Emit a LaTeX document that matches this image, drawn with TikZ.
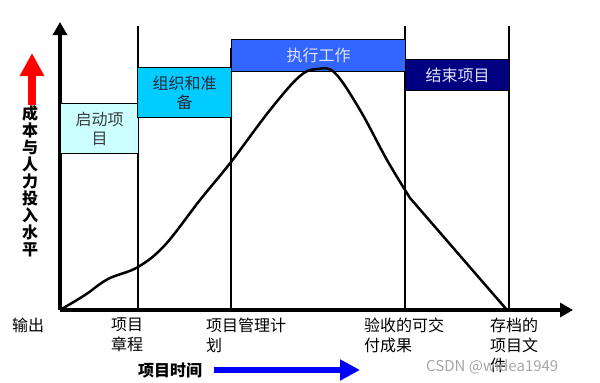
\documentclass[tikz,border=0pt]{standalone}
\usepackage{fontspec}
\setmainfont{Noto Sans CJK SC}
\usetikzlibrary{arrows.meta}

\begin{document}
\begin{tikzpicture}[x=1pt,y=-1pt,
    phase/.style={draw=black, line width=1.2pt, anchor=north west, inner sep=0pt,
        align=center, font=\fontsize{16}{19}\selectfont},
    outlbl/.style={anchor=north west, inner sep=0pt, align=left,
        font=\fontsize{16}{20}\selectfont}]
    \useasboundingbox (0,0) rectangle (600,383);

    % axes
    \coordinate (O) at (60,310);
    \coordinate (ytop) at (60,22);
    \coordinate (xend) at (573,310);
    \draw[line width=3.5pt, -{Triangle[width=14pt,length=13pt]}] (O) -- (ytop);
    \draw[line width=3.5pt, -{Triangle[width=14pt,length=13pt]}] (O) -- (xend);

    % phase borders
    \coordinate (b1) at (138,26);  \coordinate (f1) at (138,310);
    \coordinate (b2) at (231,48);  \coordinate (f2) at (231,310);
    \coordinate (b3) at (405,26);  \coordinate (f3) at (405,310);
    \coordinate (b4) at (509,26);  \coordinate (f4) at (509,310);
    \draw[line width=2.5pt] (b1) -- (f1);
    \draw[line width=2.5pt] (b2) -- (f2);
    \draw[line width=2.5pt] (b3) -- (f3);
    \draw[line width=2.5pt] (b4) -- (f4);

    % phases
    \node[phase, fill={rgb,255:red,204;green,255;blue,255}, minimum width=78pt, minimum height=50pt,
        text={rgb,255:red,60;green,60;blue,60}] (init) at (60,103) {启动项\\目};
    \node[phase, fill={rgb,255:red,0;green,204;blue,255}, minimum width=94pt, minimum height=50pt,
        text={rgb,255:red,40;green,40;blue,60}] (plan) at (137,67) {组织和准\\备};
    \node[phase, fill={rgb,255:red,51;green,102;blue,255}, minimum width=174pt, minimum height=32pt,
        text={rgb,255:red,225;green,225;blue,255}] (exec) at (231,39) {执行工作};
    \node[phase, fill={rgb,255:red,0;green,0;blue,128}, minimum width=104pt, minimum height=31pt,
        text={rgb,255:red,225;green,225;blue,255}] (close) at (405,59) {结束项目};

    % effort curve
    \draw[line width=2.5pt, line join=round] plot[smooth, tension=0.6] coordinates {
        (60,310) (85,295) (108,279) (138,267) (165,245) (200,200) (231,162)
        (270,110) (300,76) (318,69) (335,73) (360,110) (387,160) (410,198)}
        -- (507,310);

    % y label
    \draw[red, line width=8pt, -{Triangle[width=23pt,length=23pt]}] (32,105) -- (32,53);
    \node[font=\bfseries\fontsize{16}{17}\selectfont, align=center, inner sep=0pt, anchor=north]
        (ylbl) at (30,105) {成\\本\\与\\人\\力\\投\\入\\水\\平};

    % outputs
    \node[outlbl] (out) at (12,318) {输出};
    \node[outlbl] (o1) at (111,318) {项目\\章程};
    \node[outlbl] (o2) at (206,318) {项目管理计\\划};
    \node[outlbl] (o3) at (364,318) {验收的可交\\付成果};
    \node[outlbl] (o4) at (490,318) {存档的\\项目文\\件};

    % time label
    \node[font=\bfseries\fontsize{16}{19}\selectfont, inner sep=0pt, anchor=west] (time) at (138,370) {项目时间};
    \coordinate (tend) at (360,370);
    \draw[blue, line width=6pt, -{Triangle[width=20pt,length=20pt]}] (214,370) -- (tend);

    \node[text=black!35, font=\fontsize{15}{18}\selectfont, inner sep=0pt, anchor=west] (mark) at (426,367) {CSDN @widea1949};
\end{tikzpicture}
\end{document}
